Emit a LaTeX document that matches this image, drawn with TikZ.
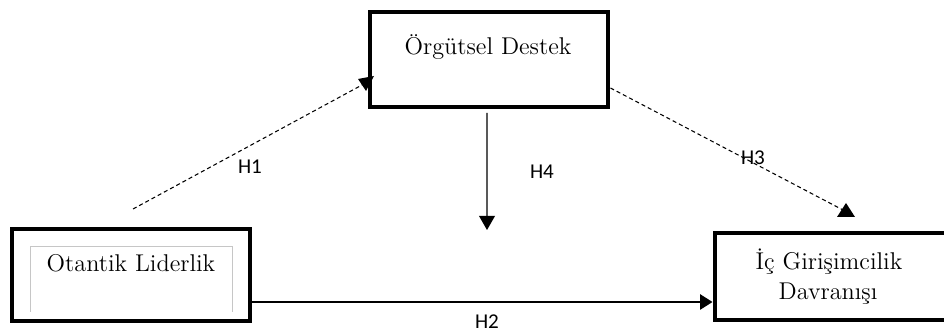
\documentclass[tikz,border=0pt]{standalone}
\usepackage{fontspec}
\newfontfamily\hfont{Carlito}
\usetikzlibrary{arrows.meta, math}

\begin{document}
\begin{tikzpicture}[
  kutu/.style={draw, line width=2.8pt, minimum width=\bw cm, inner sep=0pt},
  yazi/.style={font=\fontsize{13.8}{17}\selectfont, anchor=base},
  hip/.style={font=\hfont\fontsize{12}{14}\selectfont},
  kesik/.style={line width=0.6pt, dash pattern=on 2.3pt off 1.7pt},
]
\tikzmath{
\bw=4.76;
}
\useasboundingbox (0,0) rectangle (18.88,6.64);

% the three boxes
\node[kutu, minimum height=1.84cm] (ol) at (2.62,1.14) {};
\node[kutu, minimum height=1.90cm] (od) at (9.78,5.45) {};
\node[kutu, minimum height=1.74cm] (ic) at (16.68,1.11) {};

\draw[gray!45, line width=0.4pt] (0.6,0.4) -- (0.6,1.72) -- (4.64,1.72) -- (4.64,0.4);

\node[yazi] (olt) at (2.62,1.20) {Otantik Liderlik};
\node[yazi] (odt) at (9.76,5.54) {Örgütsel Destek};
\node[yazi] (ict1) at (16.58,1.24) {İç Girişimcilik};
\node[yazi] (ict2) at (16.56,0.64) {Davranışı};

% H1
\coordinate (h1s) at (2.66,2.46);
\coordinate (h1e) at ([yshift=-0.45cm]od.west);
\draw[kesik] (h1s) -- (h1e);
\fill (7.16,5.06) -- (7.48,5.12) -- (7.32,4.82) -- cycle;

% H3
\coordinate (h3s) at ([yshift=-0.57cm]od.east);
\coordinate (h3e) at (16.86,2.44);
\draw[kesik] (h3s) -- (h3e);
\fill (16.74,2.30) -- (17.10,2.30) -- (16.92,2.58) -- cycle;

% H4
\coordinate (h4e) at (9.74,2.04);
\draw[line width=0.6pt, -{Triangle[length=8pt,width=9pt]}] ([xshift=-0.04cm,yshift=-0.07cm]od.south) -- (h4e);

% H2
\draw[line width=1.2pt, -{Triangle[length=7pt,width=8.5pt]}] ([yshift=-0.54cm]ol.east) -- ([yshift=-0.54cm]ol.east -| ic.west);

\node[hip] (h1) at (5.0,3.3) {H1};
\node[hip] (h4) at (10.84,3.2) {H4};
\node[hip] (h3) at (15.06,3.48) {H3};
\node[hip] (h2) at (9.74,0.21) {H2};

\end{tikzpicture}
\end{document}
